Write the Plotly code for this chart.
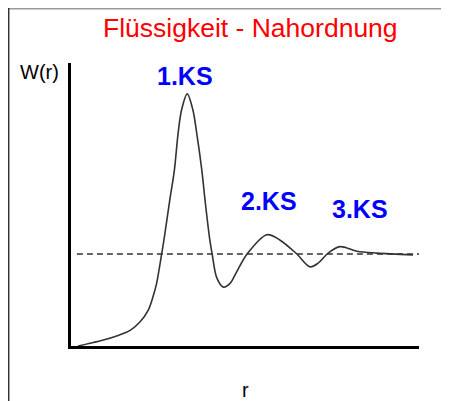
import plotly.graph_objects as go

# Curve W(r) (r in arbitrary units 0..10, W normalized so bulk level = 1)
r_vals = [0.20, 0.55, 0.93, 1.31, 1.70, 1.98, 2.22, 2.36, 2.46, 2.54, 2.60, 2.67, 2.84, 2.97,
          3.08, 3.18, 3.34, 3.50, 3.61, 3.76, 3.85, 3.99, 4.06, 4.19, 4.38, 4.57, 4.71, 5.06,
          5.63, 6.01, 6.49, 6.87, 7.10, 7.39, 7.73, 8.22, 8.79, 9.83]
w_vals = [0.0, 0.03, 0.065, 0.11, 0.17, 0.26, 0.39, 0.54, 0.68, 0.85, 0.99, 1.15, 1.59, 1.91,
          2.32, 2.57, 2.74, 2.57, 2.32, 1.91, 1.59, 1.15, 0.99, 0.74, 0.64, 0.68, 0.77, 1.0,
          1.21, 1.15, 1.0, 0.86, 0.90, 1.01, 1.08, 1.03, 1.01, 0.99]

# Bulk (average) density reference line
ref_r = [0.17, 10.0]
ref_w = [1.0, 1.0]

# Shell labels
shell_labels = ["1.KS", "2.KS", "3.KS"]

title_text = "Flüssigkeit - Nahordnung"
y_label = "W(r)"
x_label = "r"

# The page body adds an 8px margin; size the figure to fit the window exactly
OFF = 8
W, H = 449 - OFF, 401 - OFF

def px(x):
    return (x - OFF) / W

def py(y):
    return 1 - (y - OFF) / H

fig = go.Figure()
fig.add_trace(go.Scatter(x=ref_r, y=ref_w, mode="lines",
                         line=dict(color="#333333", width=1.3, dash="6px,4px"),
                         hoverinfo="skip", showlegend=False))
fig.add_trace(go.Scatter(x=r_vals, y=w_vals, mode="lines",
                         line=dict(color="#333333", width=1.6, shape="spline", smoothing=0.9),
                         showlegend=False))

axis_common = dict(showgrid=False, zeroline=False, showticklabels=False, ticks="",
                   showline=True, linecolor="black", linewidth=2.5, fixedrange=True)

fig.update_layout(
    width=W, height=H, autosize=False,
    margin=dict(l=0, r=0, t=0, b=0),
    paper_bgcolor="white", plot_bgcolor="white",
    xaxis=dict(domain=[px(71), px(419)], range=[0, 10], **axis_common),
    yaxis=dict(domain=[py(346), py(63)], range=[0, (346 - 63) / 92], **axis_common),
    font=dict(family="Liberation Sans, Arial, sans-serif"),
)

annotations = [
    dict(text=title_text, x=px(251), y=py(28), font=dict(size=26.5, color="#ff0000")),
    dict(text=y_label, x=px(39.5), y=py(72), font=dict(size=20, color="black")),
    dict(text=x_label, x=px(245.5), y=py(390), font=dict(size=20, color="black")),
]
label_pos = [(185, 75.5), (268.5, 201), (360, 209.5)]
for lab, (lx, ly) in zip(shell_labels, label_pos):
    annotations.append(dict(text="<b>" + lab + "</b>", x=px(lx), y=py(ly),
                            font=dict(size=25, color="#0000ff")))
for a in annotations:
    a.update(xref="paper", yref="paper", showarrow=False, xanchor="center", yanchor="middle")
fig.update_layout(annotations=annotations)

# Frame lines (top and left edges of the slide frame)
fig.add_shape(type="line", xref="paper", yref="paper", x0=0, x1=1.0, y0=py(8.7), y1=py(8.7),
              line=dict(color="#9a9a9a", width=1.5))
fig.add_shape(type="line", xref="paper", yref="paper", x0=px(8.7), x1=px(8.7), y0=py(8), y1=0,
              line=dict(color="#333333", width=1.5))

fig.write_html("out.html")
